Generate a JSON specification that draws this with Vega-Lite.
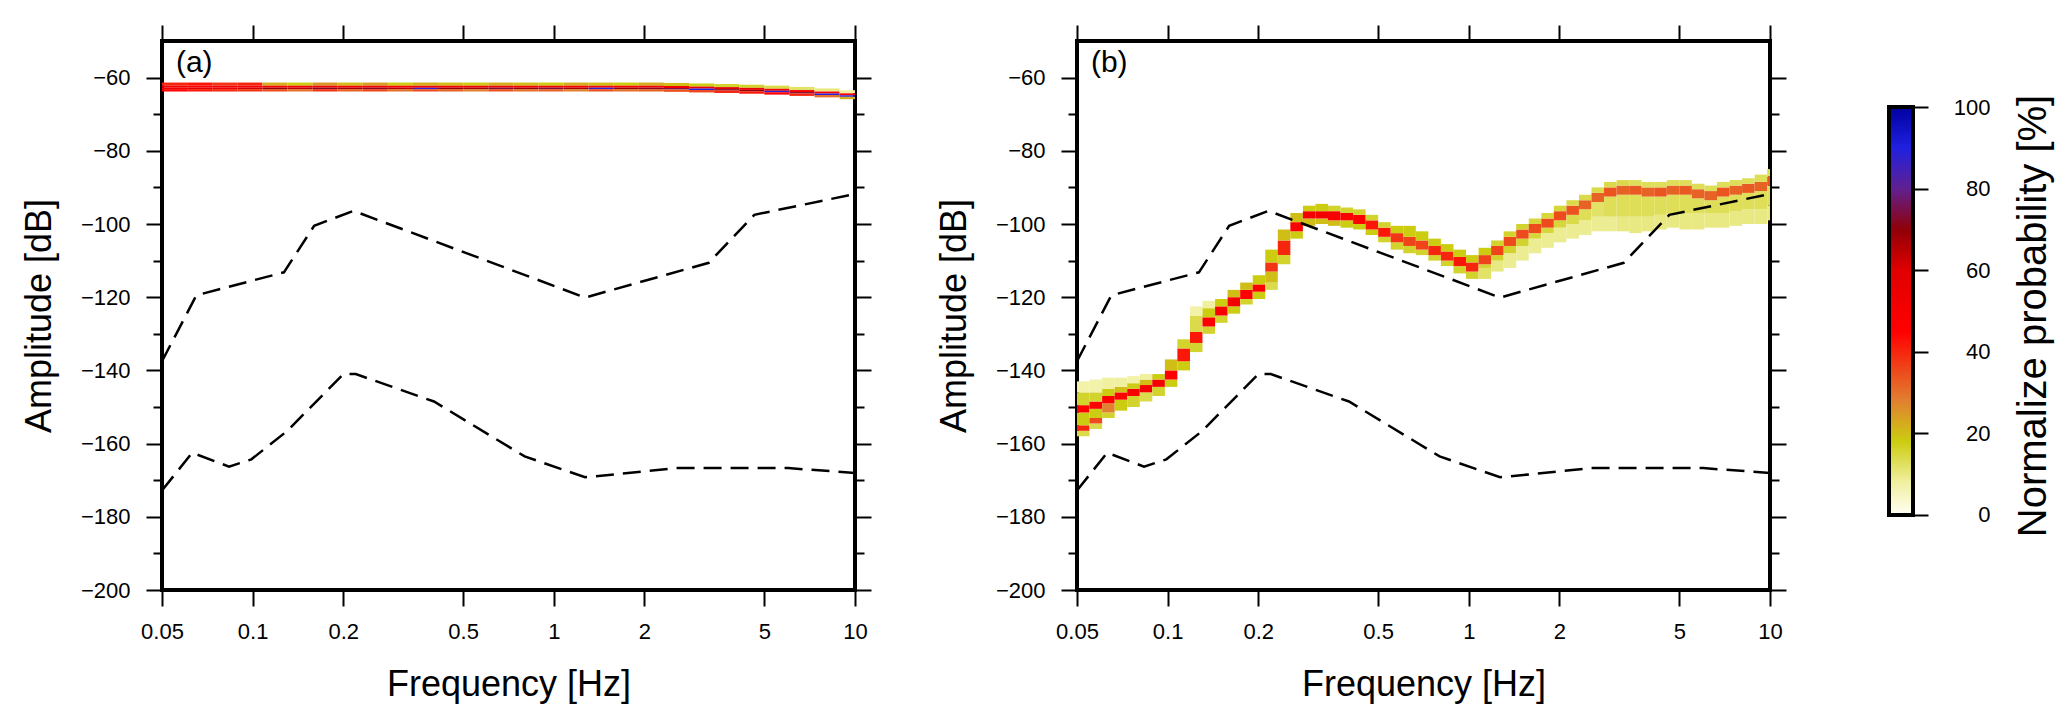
{
  "$schema": "https://vega.github.io/schema/vega-lite/v6.json",
  "background": "white",
  "padding": {"left": 19, "top": 22, "right": 5, "bottom": 5},
  "config": {
    "font": "Liberation Sans",
    "view": {"stroke": "black", "strokeWidth": 4},
    "axis": {"domain": false, "grid": false, "tickColor": "black", "tickWidth": 2, "labelColor": "black", "titleColor": "black", "labelFontSize": 22, "titleFontSize": 36, "titleFontWeight": "normal", "labelOverlap": false, "labelFlush": false}
  },
  "datasets": {
    "nm": [
      {"m": "NHNM", "f": 0.05, "db": -137.5}, {"m": "NHNM", "f": 0.065, "db": -119.5}, {"m": "NHNM", "f": 0.127, "db": -113.2},
      {"m": "NHNM", "f": 0.16, "db": -100.5}, {"m": "NHNM", "f": 0.216, "db": -96.4}, {"m": "NHNM", "f": 1.27, "db": -120.1},
      {"m": "NHNM", "f": 3.27, "db": -110.6}, {"m": "NHNM", "f": 4.63, "db": -97.5}, {"m": "NHNM", "f": 10, "db": -91.8},
      {"m": "NLNM", "f": 0.05, "db": -172.8}, {"m": "NLNM", "f": 0.063, "db": -162.5}, {"m": "NLNM", "f": 0.0835, "db": -166.3},
      {"m": "NLNM", "f": 0.099, "db": -164.3}, {"m": "NLNM", "f": 0.13, "db": -156.6}, {"m": "NLNM", "f": 0.2, "db": -141},
      {"m": "NLNM", "f": 0.22, "db": -141}, {"m": "NLNM", "f": 0.4, "db": -148.5}, {"m": "NLNM", "f": 0.8, "db": -163.5},
      {"m": "NLNM", "f": 1.27, "db": -169.2}, {"m": "NLNM", "f": 2.55, "db": -166.7}, {"m": "NLNM", "f": 6, "db": -166.7},
      {"m": "NLNM", "f": 10, "db": -168}
    ],
    "pa": [
      {"f0": 0.05, "f1": 0.06058, "d0": -62.2, "d1": -61.35, "v": 40}, {"f0": 0.05, "f1": 0.06058, "d0": -62.75, "d1": -62.2, "v": 52}, {"f0": 0.05, "f1": 0.06058, "d0": -63.15, "d1": -62.75, "v": 55}, {"f0": 0.05, "f1": 0.06058, "d0": -63.8, "d1": -63.15, "v": 45},
      {"f0": 0.06058, "f1": 0.07339, "d0": -62.2, "d1": -61.35, "v": 42}, {"f0": 0.06058, "f1": 0.07339, "d0": -62.75, "d1": -62.2, "v": 50}, {"f0": 0.06058, "f1": 0.07339, "d0": -63.15, "d1": -62.75, "v": 60}, {"f0": 0.06058, "f1": 0.07339, "d0": -63.8, "d1": -63.15, "v": 42},
      {"f0": 0.07339, "f1": 0.08891, "d0": -62.2, "d1": -61.35, "v": 38}, {"f0": 0.07339, "f1": 0.08891, "d0": -62.75, "d1": -62.2, "v": 52}, {"f0": 0.07339, "f1": 0.08891, "d0": -63.15, "d1": -62.75, "v": 55}, {"f0": 0.07339, "f1": 0.08891, "d0": -63.8, "d1": -63.15, "v": 40},
      {"f0": 0.08891, "f1": 0.10772, "d0": -62.2, "d1": -61.35, "v": 40}, {"f0": 0.08891, "f1": 0.10772, "d0": -62.75, "d1": -62.2, "v": 50}, {"f0": 0.08891, "f1": 0.10772, "d0": -63.15, "d1": -62.75, "v": 62}, {"f0": 0.08891, "f1": 0.10772, "d0": -63.8, "d1": -63.15, "v": 38},
      {"f0": 0.10772, "f1": 0.13051, "d0": -62.2, "d1": -61.35, "v": 22}, {"f0": 0.10772, "f1": 0.13051, "d0": -62.75, "d1": -62.2, "v": 48}, {"f0": 0.10772, "f1": 0.13051, "d0": -63.15, "d1": -62.75, "v": 70}, {"f0": 0.10772, "f1": 0.13051, "d0": -63.8, "d1": -63.15, "v": 35},
      {"f0": 0.13051, "f1": 0.15811, "d0": -62.2, "d1": -61.35, "v": 18}, {"f0": 0.13051, "f1": 0.15811, "d0": -62.75, "d1": -62.2, "v": 50}, {"f0": 0.13051, "f1": 0.15811, "d0": -63.15, "d1": -62.75, "v": 65}, {"f0": 0.13051, "f1": 0.15811, "d0": -63.8, "d1": -63.15, "v": 30},
      {"f0": 0.15811, "f1": 0.19156, "d0": -62.2, "d1": -61.35, "v": 25}, {"f0": 0.15811, "f1": 0.19156, "d0": -62.75, "d1": -62.2, "v": 52}, {"f0": 0.15811, "f1": 0.19156, "d0": -63.15, "d1": -62.75, "v": 72}, {"f0": 0.15811, "f1": 0.19156, "d0": -63.8, "d1": -63.15, "v": 38},
      {"f0": 0.19156, "f1": 0.23208, "d0": -62.2, "d1": -61.35, "v": 20}, {"f0": 0.19156, "f1": 0.23208, "d0": -62.75, "d1": -62.2, "v": 48}, {"f0": 0.19156, "f1": 0.23208, "d0": -63.15, "d1": -62.75, "v": 68}, {"f0": 0.19156, "f1": 0.23208, "d0": -63.8, "d1": -63.15, "v": 32},
      {"f0": 0.23208, "f1": 0.28117, "d0": -62.2, "d1": -61.35, "v": 24}, {"f0": 0.23208, "f1": 0.28117, "d0": -62.75, "d1": -62.2, "v": 50}, {"f0": 0.23208, "f1": 0.28117, "d0": -63.15, "d1": -62.75, "v": 72}, {"f0": 0.23208, "f1": 0.28117, "d0": -63.8, "d1": -63.15, "v": 36},
      {"f0": 0.28117, "f1": 0.34064, "d0": -62.2, "d1": -61.35, "v": 18}, {"f0": 0.28117, "f1": 0.34064, "d0": -62.75, "d1": -62.2, "v": 46}, {"f0": 0.28117, "f1": 0.34064, "d0": -63.15, "d1": -62.75, "v": 66}, {"f0": 0.28117, "f1": 0.34064, "d0": -63.8, "d1": -63.15, "v": 30},
      {"f0": 0.34064, "f1": 0.41269, "d0": -62.2, "d1": -61.35, "v": 22}, {"f0": 0.34064, "f1": 0.41269, "d0": -62.75, "d1": -62.2, "v": 50}, {"f0": 0.34064, "f1": 0.41269, "d0": -63.15, "d1": -62.75, "v": 88}, {"f0": 0.34064, "f1": 0.41269, "d0": -63.8, "d1": -63.15, "v": 35},
      {"f0": 0.41269, "f1": 0.5, "d0": -62.2, "d1": -61.35, "v": 20}, {"f0": 0.41269, "f1": 0.5, "d0": -62.75, "d1": -62.2, "v": 48}, {"f0": 0.41269, "f1": 0.5, "d0": -63.15, "d1": -62.75, "v": 70}, {"f0": 0.41269, "f1": 0.5, "d0": -63.8, "d1": -63.15, "v": 32},
      {"f0": 0.5, "f1": 0.60576, "d0": -62.2, "d1": -61.35, "v": 18}, {"f0": 0.5, "f1": 0.60576, "d0": -62.75, "d1": -62.2, "v": 50}, {"f0": 0.5, "f1": 0.60576, "d0": -63.15, "d1": -62.75, "v": 68}, {"f0": 0.5, "f1": 0.60576, "d0": -63.8, "d1": -63.15, "v": 28},
      {"f0": 0.60576, "f1": 0.73389, "d0": -62.2, "d1": -61.35, "v": 22}, {"f0": 0.60576, "f1": 0.73389, "d0": -62.75, "d1": -62.2, "v": 52}, {"f0": 0.60576, "f1": 0.73389, "d0": -63.15, "d1": -62.75, "v": 74}, {"f0": 0.60576, "f1": 0.73389, "d0": -63.8, "d1": -63.15, "v": 34},
      {"f0": 0.73389, "f1": 0.88913, "d0": -62.2, "d1": -61.35, "v": 20}, {"f0": 0.73389, "f1": 0.88913, "d0": -62.75, "d1": -62.2, "v": 48}, {"f0": 0.73389, "f1": 0.88913, "d0": -63.15, "d1": -62.75, "v": 70}, {"f0": 0.73389, "f1": 0.88913, "d0": -63.8, "d1": -63.15, "v": 30},
      {"f0": 0.88913, "f1": 1.07721, "d0": -62.2, "d1": -61.35, "v": 18}, {"f0": 0.88913, "f1": 1.07721, "d0": -62.75, "d1": -62.2, "v": 50}, {"f0": 0.88913, "f1": 1.07721, "d0": -63.15, "d1": -62.75, "v": 74}, {"f0": 0.88913, "f1": 1.07721, "d0": -63.8, "d1": -63.15, "v": 32},
      {"f0": 1.07721, "f1": 1.30508, "d0": -62.2, "d1": -61.35, "v": 22}, {"f0": 1.07721, "f1": 1.30508, "d0": -62.75, "d1": -62.2, "v": 48}, {"f0": 1.07721, "f1": 1.30508, "d0": -63.15, "d1": -62.75, "v": 68}, {"f0": 1.07721, "f1": 1.30508, "d0": -63.8, "d1": -63.15, "v": 28},
      {"f0": 1.30508, "f1": 1.58114, "d0": -62.2, "d1": -61.35, "v": 20}, {"f0": 1.30508, "f1": 1.58114, "d0": -62.75, "d1": -62.2, "v": 50}, {"f0": 1.30508, "f1": 1.58114, "d0": -63.15, "d1": -62.75, "v": 88}, {"f0": 1.30508, "f1": 1.58114, "d0": -63.8, "d1": -63.15, "v": 34},
      {"f0": 1.58114, "f1": 1.91558, "d0": -62.2, "d1": -61.35, "v": 18}, {"f0": 1.58114, "f1": 1.91558, "d0": -62.75, "d1": -62.2, "v": 48}, {"f0": 1.58114, "f1": 1.91558, "d0": -63.15, "d1": -62.75, "v": 70}, {"f0": 1.58114, "f1": 1.91558, "d0": -63.8, "d1": -63.15, "v": 30},
      {"f0": 1.91558, "f1": 2.32079, "d0": -62.2, "d1": -61.35, "v": 22}, {"f0": 1.91558, "f1": 2.32079, "d0": -62.75, "d1": -62.2, "v": 50}, {"f0": 1.91558, "f1": 2.32079, "d0": -63.15, "d1": -62.75, "v": 72}, {"f0": 1.91558, "f1": 2.32079, "d0": -63.8, "d1": -63.15, "v": 32},
      {"f0": 2.32079, "f1": 2.81171, "d0": -62.3, "d1": -61.45, "v": 20}, {"f0": 2.32079, "f1": 2.81171, "d0": -62.85, "d1": -62.3, "v": 52}, {"f0": 2.32079, "f1": 2.81171, "d0": -63.25, "d1": -62.85, "v": 74}, {"f0": 2.32079, "f1": 2.81171, "d0": -63.9, "d1": -63.25, "v": 34},
      {"f0": 2.81171, "f1": 3.40646, "d0": -62.45, "d1": -61.6, "v": 18}, {"f0": 2.81171, "f1": 3.40646, "d0": -63.0, "d1": -62.45, "v": 55}, {"f0": 2.81171, "f1": 3.40646, "d0": -63.4, "d1": -63.0, "v": 90}, {"f0": 2.81171, "f1": 3.40646, "d0": -64.05, "d1": -63.4, "v": 36},
      {"f0": 3.40646, "f1": 4.12703, "d0": -62.6, "d1": -61.75, "v": 16}, {"f0": 3.40646, "f1": 4.12703, "d0": -63.15, "d1": -62.6, "v": 58}, {"f0": 3.40646, "f1": 4.12703, "d0": -63.55, "d1": -63.15, "v": 72}, {"f0": 3.40646, "f1": 4.12703, "d0": -64.2, "d1": -63.55, "v": 40},
      {"f0": 4.12703, "f1": 5.0, "d0": -62.8, "d1": -61.95, "v": 16}, {"f0": 4.12703, "f1": 5.0, "d0": -63.35, "d1": -62.8, "v": 55}, {"f0": 4.12703, "f1": 5.0, "d0": -63.75, "d1": -63.35, "v": 70}, {"f0": 4.12703, "f1": 5.0, "d0": -64.4, "d1": -63.75, "v": 42},
      {"f0": 5.0, "f1": 6.05764, "d0": -63.05, "d1": -62.2, "v": 14}, {"f0": 5.0, "f1": 6.05764, "d0": -63.6, "d1": -63.05, "v": 52}, {"f0": 5.0, "f1": 6.05764, "d0": -64.0, "d1": -63.6, "v": 88}, {"f0": 5.0, "f1": 6.05764, "d0": -64.65, "d1": -64.0, "v": 45},
      {"f0": 6.05764, "f1": 7.33891, "d0": -63.4, "d1": -62.55, "v": 12}, {"f0": 6.05764, "f1": 7.33891, "d0": -63.95, "d1": -63.4, "v": 50}, {"f0": 6.05764, "f1": 7.33891, "d0": -64.35, "d1": -63.95, "v": 72}, {"f0": 6.05764, "f1": 7.33891, "d0": -65.0, "d1": -64.35, "v": 40},
      {"f0": 7.33891, "f1": 8.89134, "d0": -63.8, "d1": -62.95, "v": 10}, {"f0": 7.33891, "f1": 8.89134, "d0": -64.35, "d1": -63.8, "v": 48}, {"f0": 7.33891, "f1": 8.89134, "d0": -64.75, "d1": -64.35, "v": 90}, {"f0": 7.33891, "f1": 8.89134, "d0": -65.4, "d1": -64.75, "v": 30},
      {"f0": 8.89134, "f1": 10, "d0": -64.3, "d1": -63.45, "v": 8}, {"f0": 8.89134, "f1": 10, "d0": -64.85, "d1": -64.3, "v": 45}, {"f0": 8.89134, "f1": 10, "d0": -65.25, "d1": -64.85, "v": 92}, {"f0": 8.89134, "f1": 10, "d0": -65.9, "d1": -65.25, "v": 22}
    ],
    "pb": [
      {"f0": 0.05, "f1": 0.055, "d0": -158, "d1": -156.5, "v": 14}, {"f0": 0.05, "f1": 0.055, "d0": -156.5, "d1": -155, "v": 40}, {"f0": 0.05, "f1": 0.055, "d0": -155, "d1": -151.5, "v": 18}, {"f0": 0.05, "f1": 0.055, "d0": -151.5, "d1": -149.5, "v": 45}, {"f0": 0.05, "f1": 0.055, "d0": -149.5, "d1": -146, "v": 16}, {"f0": 0.05, "f1": 0.055, "d0": -146, "d1": -143, "v": 7},
      {"f0": 0.055, "f1": 0.0606, "d0": -156, "d1": -154.5, "v": 14}, {"f0": 0.055, "f1": 0.0606, "d0": -154.5, "d1": -153, "v": 35}, {"f0": 0.055, "f1": 0.0606, "d0": -153, "d1": -150.5, "v": 18}, {"f0": 0.055, "f1": 0.0606, "d0": -150.5, "d1": -148.5, "v": 45}, {"f0": 0.055, "f1": 0.0606, "d0": -148.5, "d1": -146, "v": 16}, {"f0": 0.055, "f1": 0.0606, "d0": -146, "d1": -142.5, "v": 7},
      {"f0": 0.0606, "f1": 0.0667, "d0": -153, "d1": -151.5, "v": 16}, {"f0": 0.0606, "f1": 0.0667, "d0": -151.5, "d1": -149, "v": 28}, {"f0": 0.0606, "f1": 0.0667, "d0": -149, "d1": -147, "v": 45}, {"f0": 0.0606, "f1": 0.0667, "d0": -147, "d1": -145, "v": 18}, {"f0": 0.0606, "f1": 0.0667, "d0": -145, "d1": -142, "v": 8},
      {"f0": 0.0667, "f1": 0.0734, "d0": -151, "d1": -148, "v": 18}, {"f0": 0.0667, "f1": 0.0734, "d0": -148, "d1": -146, "v": 45}, {"f0": 0.0667, "f1": 0.0734, "d0": -146, "d1": -144.5, "v": 20}, {"f0": 0.0667, "f1": 0.0734, "d0": -144.5, "d1": -142, "v": 8},
      {"f0": 0.0734, "f1": 0.0808, "d0": -150, "d1": -147, "v": 16}, {"f0": 0.0734, "f1": 0.0808, "d0": -147, "d1": -145, "v": 48}, {"f0": 0.0734, "f1": 0.0808, "d0": -145, "d1": -143.5, "v": 18}, {"f0": 0.0734, "f1": 0.0808, "d0": -143.5, "d1": -141.5, "v": 7},
      {"f0": 0.0808, "f1": 0.0889, "d0": -148.5, "d1": -146, "v": 14}, {"f0": 0.0808, "f1": 0.0889, "d0": -146, "d1": -144, "v": 50}, {"f0": 0.0808, "f1": 0.0889, "d0": -144, "d1": -142.5, "v": 20}, {"f0": 0.0808, "f1": 0.0889, "d0": -142.5, "d1": -141, "v": 8},
      {"f0": 0.0889, "f1": 0.0979, "d0": -147, "d1": -144.5, "v": 16}, {"f0": 0.0889, "f1": 0.0979, "d0": -144.5, "d1": -142.5, "v": 50}, {"f0": 0.0889, "f1": 0.0979, "d0": -142.5, "d1": -141, "v": 18},
      {"f0": 0.0979, "f1": 0.1077, "d0": -144.5, "d1": -142.5, "v": 18}, {"f0": 0.0979, "f1": 0.1077, "d0": -142.5, "d1": -140, "v": 45}, {"f0": 0.0979, "f1": 0.1077, "d0": -140, "d1": -137, "v": 20},
      {"f0": 0.1077, "f1": 0.1186, "d0": -140, "d1": -137.5, "v": 18}, {"f0": 0.1077, "f1": 0.1186, "d0": -137.5, "d1": -134, "v": 42}, {"f0": 0.1077, "f1": 0.1186, "d0": -134, "d1": -131.5, "v": 16},
      {"f0": 0.1186, "f1": 0.1305, "d0": -135, "d1": -132.5, "v": 16}, {"f0": 0.1186, "f1": 0.1305, "d0": -132.5, "d1": -129.5, "v": 42}, {"f0": 0.1186, "f1": 0.1305, "d0": -129.5, "d1": -125, "v": 14}, {"f0": 0.1186, "f1": 0.1305, "d0": -125, "d1": -122.5, "v": 7},
      {"f0": 0.1305, "f1": 0.1437, "d0": -130, "d1": -128, "v": 16}, {"f0": 0.1305, "f1": 0.1437, "d0": -128, "d1": -125.5, "v": 45}, {"f0": 0.1305, "f1": 0.1437, "d0": -125.5, "d1": -123, "v": 18}, {"f0": 0.1305, "f1": 0.1437, "d0": -123, "d1": -121, "v": 8},
      {"f0": 0.1437, "f1": 0.1581, "d0": -127, "d1": -125, "v": 16}, {"f0": 0.1437, "f1": 0.1581, "d0": -125, "d1": -122.5, "v": 48}, {"f0": 0.1437, "f1": 0.1581, "d0": -122.5, "d1": -120.5, "v": 18},
      {"f0": 0.1581, "f1": 0.1741, "d0": -124.5, "d1": -122.5, "v": 18}, {"f0": 0.1581, "f1": 0.1741, "d0": -122.5, "d1": -120, "v": 50}, {"f0": 0.1581, "f1": 0.1741, "d0": -120, "d1": -118, "v": 20},
      {"f0": 0.1741, "f1": 0.1916, "d0": -122, "d1": -120.5, "v": 16}, {"f0": 0.1741, "f1": 0.1916, "d0": -120.5, "d1": -118, "v": 45}, {"f0": 0.1741, "f1": 0.1916, "d0": -118, "d1": -116, "v": 20},
      {"f0": 0.1916, "f1": 0.2109, "d0": -120.5, "d1": -118.5, "v": 18}, {"f0": 0.1916, "f1": 0.2109, "d0": -118.5, "d1": -116.5, "v": 45}, {"f0": 0.1916, "f1": 0.2109, "d0": -116.5, "d1": -114, "v": 18},
      {"f0": 0.2109, "f1": 0.2321, "d0": -118, "d1": -116, "v": 14}, {"f0": 0.2109, "f1": 0.2321, "d0": -116, "d1": -113, "v": 20}, {"f0": 0.2109, "f1": 0.2321, "d0": -113, "d1": -110.5, "v": 38}, {"f0": 0.2109, "f1": 0.2321, "d0": -110.5, "d1": -107, "v": 18},
      {"f0": 0.2321, "f1": 0.2555, "d0": -111, "d1": -108.5, "v": 16}, {"f0": 0.2321, "f1": 0.2555, "d0": -108.5, "d1": -104.5, "v": 40}, {"f0": 0.2321, "f1": 0.2555, "d0": -104.5, "d1": -101.5, "v": 20},
      {"f0": 0.2555, "f1": 0.2812, "d0": -104, "d1": -102, "v": 18}, {"f0": 0.2555, "f1": 0.2812, "d0": -102, "d1": -99.5, "v": 45}, {"f0": 0.2555, "f1": 0.2812, "d0": -99.5, "d1": -97, "v": 20},
      {"f0": 0.2812, "f1": 0.3095, "d0": -100.5, "d1": -98.5, "v": 20}, {"f0": 0.2812, "f1": 0.3095, "d0": -98.5, "d1": -96.5, "v": 50}, {"f0": 0.2812, "f1": 0.3095, "d0": -96.5, "d1": -95, "v": 18},
      {"f0": 0.3095, "f1": 0.3407, "d0": -100, "d1": -98.5, "v": 20}, {"f0": 0.3095, "f1": 0.3407, "d0": -98.5, "d1": -96.5, "v": 50}, {"f0": 0.3095, "f1": 0.3407, "d0": -96.5, "d1": -94.5, "v": 18},
      {"f0": 0.3407, "f1": 0.375, "d0": -100.5, "d1": -99, "v": 20}, {"f0": 0.3407, "f1": 0.375, "d0": -99, "d1": -96.5, "v": 48}, {"f0": 0.3407, "f1": 0.375, "d0": -96.5, "d1": -95, "v": 16},
      {"f0": 0.375, "f1": 0.4128, "d0": -101, "d1": -99, "v": 18}, {"f0": 0.375, "f1": 0.4128, "d0": -99, "d1": -97, "v": 45}, {"f0": 0.375, "f1": 0.4128, "d0": -97, "d1": -95.5, "v": 16},
      {"f0": 0.4128, "f1": 0.4543, "d0": -101.5, "d1": -100, "v": 18}, {"f0": 0.4128, "f1": 0.4543, "d0": -100, "d1": -97.5, "v": 45}, {"f0": 0.4128, "f1": 0.4543, "d0": -97.5, "d1": -96, "v": 16},
      {"f0": 0.4543, "f1": 0.5, "d0": -103, "d1": -101.5, "v": 18}, {"f0": 0.4543, "f1": 0.5, "d0": -101.5, "d1": -99, "v": 42}, {"f0": 0.4543, "f1": 0.5, "d0": -99, "d1": -97.5, "v": 16},
      {"f0": 0.5, "f1": 0.5503, "d0": -105, "d1": -103.5, "v": 16}, {"f0": 0.5, "f1": 0.5503, "d0": -103.5, "d1": -101, "v": 42}, {"f0": 0.5, "f1": 0.5503, "d0": -101, "d1": -99.5, "v": 16},
      {"f0": 0.5503, "f1": 0.6058, "d0": -107, "d1": -105, "v": 16}, {"f0": 0.5503, "f1": 0.6058, "d0": -105, "d1": -102.5, "v": 38}, {"f0": 0.5503, "f1": 0.6058, "d0": -102.5, "d1": -100.5, "v": 18},
      {"f0": 0.6058, "f1": 0.6668, "d0": -108, "d1": -106, "v": 16}, {"f0": 0.6058, "f1": 0.6668, "d0": -106, "d1": -103.5, "v": 36}, {"f0": 0.6058, "f1": 0.6668, "d0": -103.5, "d1": -100.5, "v": 18},
      {"f0": 0.6668, "f1": 0.7339, "d0": -108.5, "d1": -107, "v": 16}, {"f0": 0.6668, "f1": 0.7339, "d0": -107, "d1": -104.5, "v": 36}, {"f0": 0.6668, "f1": 0.7339, "d0": -104.5, "d1": -102, "v": 18},
      {"f0": 0.7339, "f1": 0.8078, "d0": -110, "d1": -108.5, "v": 16}, {"f0": 0.7339, "f1": 0.8078, "d0": -108.5, "d1": -106, "v": 40}, {"f0": 0.7339, "f1": 0.8078, "d0": -106, "d1": -104, "v": 18},
      {"f0": 0.8078, "f1": 0.8891, "d0": -111.5, "d1": -110, "v": 16}, {"f0": 0.8078, "f1": 0.8891, "d0": -110, "d1": -107.5, "v": 40}, {"f0": 0.8078, "f1": 0.8891, "d0": -107.5, "d1": -105.5, "v": 18},
      {"f0": 0.8891, "f1": 0.9787, "d0": -113.5, "d1": -111.5, "v": 16}, {"f0": 0.8891, "f1": 0.9787, "d0": -111.5, "d1": -109, "v": 42}, {"f0": 0.8891, "f1": 0.9787, "d0": -109, "d1": -107, "v": 18},
      {"f0": 0.9787, "f1": 1.0772, "d0": -115, "d1": -113, "v": 16}, {"f0": 0.9787, "f1": 1.0772, "d0": -113, "d1": -110.5, "v": 40}, {"f0": 0.9787, "f1": 1.0772, "d0": -110.5, "d1": -108.5, "v": 18},
      {"f0": 1.0772, "f1": 1.1857, "d0": -115, "d1": -112, "v": 12}, {"f0": 1.0772, "f1": 1.1857, "d0": -112, "d1": -111, "v": 16}, {"f0": 1.0772, "f1": 1.1857, "d0": -111, "d1": -108.5, "v": 36}, {"f0": 1.0772, "f1": 1.1857, "d0": -108.5, "d1": -106.5, "v": 18},
      {"f0": 1.1857, "f1": 1.3051, "d0": -113, "d1": -110, "v": 10}, {"f0": 1.1857, "f1": 1.3051, "d0": -110, "d1": -108.5, "v": 16}, {"f0": 1.1857, "f1": 1.3051, "d0": -108.5, "d1": -106, "v": 36}, {"f0": 1.1857, "f1": 1.3051, "d0": -106, "d1": -104.5, "v": 16},
      {"f0": 1.3051, "f1": 1.4365, "d0": -112, "d1": -108, "v": 9}, {"f0": 1.3051, "f1": 1.4365, "d0": -108, "d1": -106, "v": 16}, {"f0": 1.3051, "f1": 1.4365, "d0": -106, "d1": -103.5, "v": 35}, {"f0": 1.3051, "f1": 1.4365, "d0": -103.5, "d1": -102, "v": 16},
      {"f0": 1.4365, "f1": 1.5811, "d0": -110, "d1": -106, "v": 9}, {"f0": 1.4365, "f1": 1.5811, "d0": -106, "d1": -104, "v": 16}, {"f0": 1.4365, "f1": 1.5811, "d0": -104, "d1": -101.5, "v": 35}, {"f0": 1.4365, "f1": 1.5811, "d0": -101.5, "d1": -100, "v": 16},
      {"f0": 1.5811, "f1": 1.7404, "d0": -108, "d1": -104, "v": 9}, {"f0": 1.5811, "f1": 1.7404, "d0": -104, "d1": -102.5, "v": 15}, {"f0": 1.5811, "f1": 1.7404, "d0": -102.5, "d1": -100, "v": 35}, {"f0": 1.5811, "f1": 1.7404, "d0": -100, "d1": -98.5, "v": 15},
      {"f0": 1.7404, "f1": 1.9156, "d0": -106.5, "d1": -102.5, "v": 9}, {"f0": 1.7404, "f1": 1.9156, "d0": -102.5, "d1": -101, "v": 15}, {"f0": 1.7404, "f1": 1.9156, "d0": -101, "d1": -98.5, "v": 35}, {"f0": 1.7404, "f1": 1.9156, "d0": -98.5, "d1": -97, "v": 15},
      {"f0": 1.9156, "f1": 2.1085, "d0": -105, "d1": -101, "v": 9}, {"f0": 1.9156, "f1": 2.1085, "d0": -101, "d1": -99, "v": 15}, {"f0": 1.9156, "f1": 2.1085, "d0": -99, "d1": -96.5, "v": 35}, {"f0": 1.9156, "f1": 2.1085, "d0": -96.5, "d1": -95, "v": 15},
      {"f0": 2.1085, "f1": 2.3208, "d0": -104, "d1": -100, "v": 9}, {"f0": 2.1085, "f1": 2.3208, "d0": -100, "d1": -97.5, "v": 14}, {"f0": 2.1085, "f1": 2.3208, "d0": -97.5, "d1": -95, "v": 34}, {"f0": 2.1085, "f1": 2.3208, "d0": -95, "d1": -93.5, "v": 14},
      {"f0": 2.3208, "f1": 2.5544, "d0": -103, "d1": -99, "v": 9}, {"f0": 2.3208, "f1": 2.5544, "d0": -99, "d1": -96, "v": 13}, {"f0": 2.3208, "f1": 2.5544, "d0": -96, "d1": -93.5, "v": 32}, {"f0": 2.3208, "f1": 2.5544, "d0": -93.5, "d1": -92, "v": 14},
      {"f0": 2.5544, "f1": 2.8117, "d0": -102, "d1": -98, "v": 9}, {"f0": 2.5544, "f1": 2.8117, "d0": -98, "d1": -94, "v": 12}, {"f0": 2.5544, "f1": 2.8117, "d0": -94, "d1": -91.5, "v": 32}, {"f0": 2.5544, "f1": 2.8117, "d0": -91.5, "d1": -90, "v": 14},
      {"f0": 2.8117, "f1": 3.0948, "d0": -102, "d1": -98, "v": 9}, {"f0": 2.8117, "f1": 3.0948, "d0": -98, "d1": -92.5, "v": 13}, {"f0": 2.8117, "f1": 3.0948, "d0": -92.5, "d1": -90, "v": 34}, {"f0": 2.8117, "f1": 3.0948, "d0": -90, "d1": -88.5, "v": 14},
      {"f0": 3.0948, "f1": 3.4064, "d0": -102, "d1": -98, "v": 10}, {"f0": 3.0948, "f1": 3.4064, "d0": -98, "d1": -92, "v": 13}, {"f0": 3.0948, "f1": 3.4064, "d0": -92, "d1": -89.5, "v": 32}, {"f0": 3.0948, "f1": 3.4064, "d0": -89.5, "d1": -88, "v": 14},
      {"f0": 3.4064, "f1": 3.7494, "d0": -102.5, "d1": -98, "v": 10}, {"f0": 3.4064, "f1": 3.7494, "d0": -98, "d1": -92, "v": 13}, {"f0": 3.4064, "f1": 3.7494, "d0": -92, "d1": -89.5, "v": 33}, {"f0": 3.4064, "f1": 3.7494, "d0": -89.5, "d1": -88, "v": 13},
      {"f0": 3.7494, "f1": 4.1269, "d0": -102, "d1": -98, "v": 10}, {"f0": 3.7494, "f1": 4.1269, "d0": -98, "d1": -92.5, "v": 13}, {"f0": 3.7494, "f1": 4.1269, "d0": -92.5, "d1": -90, "v": 32}, {"f0": 3.7494, "f1": 4.1269, "d0": -90, "d1": -88.5, "v": 13},
      {"f0": 4.1269, "f1": 4.5424, "d0": -101.5, "d1": -97.5, "v": 10}, {"f0": 4.1269, "f1": 4.5424, "d0": -97.5, "d1": -92.5, "v": 13}, {"f0": 4.1269, "f1": 4.5424, "d0": -92.5, "d1": -90, "v": 34}, {"f0": 4.1269, "f1": 4.5424, "d0": -90, "d1": -88.5, "v": 13},
      {"f0": 4.5424, "f1": 5.0, "d0": -101, "d1": -97, "v": 10}, {"f0": 4.5424, "f1": 5.0, "d0": -97, "d1": -92, "v": 13}, {"f0": 4.5424, "f1": 5.0, "d0": -92, "d1": -89.5, "v": 32}, {"f0": 4.5424, "f1": 5.0, "d0": -89.5, "d1": -88, "v": 13},
      {"f0": 5.0, "f1": 5.5034, "d0": -101.5, "d1": -97, "v": 10}, {"f0": 5.0, "f1": 5.5034, "d0": -97, "d1": -92, "v": 13}, {"f0": 5.0, "f1": 5.5034, "d0": -92, "d1": -89.5, "v": 33}, {"f0": 5.0, "f1": 5.5034, "d0": -89.5, "d1": -88, "v": 13},
      {"f0": 5.5034, "f1": 6.0576, "d0": -101.5, "d1": -97, "v": 10}, {"f0": 5.5034, "f1": 6.0576, "d0": -97, "d1": -93, "v": 13}, {"f0": 5.5034, "f1": 6.0576, "d0": -93, "d1": -90.5, "v": 32}, {"f0": 5.5034, "f1": 6.0576, "d0": -90.5, "d1": -89, "v": 13},
      {"f0": 6.0576, "f1": 6.6676, "d0": -101, "d1": -97, "v": 10}, {"f0": 6.0576, "f1": 6.6676, "d0": -97, "d1": -93.5, "v": 13}, {"f0": 6.0576, "f1": 6.6676, "d0": -93.5, "d1": -91, "v": 32}, {"f0": 6.0576, "f1": 6.6676, "d0": -91, "d1": -89.5, "v": 13},
      {"f0": 6.6676, "f1": 7.3389, "d0": -101, "d1": -97, "v": 10}, {"f0": 6.6676, "f1": 7.3389, "d0": -97, "d1": -92.5, "v": 13}, {"f0": 6.6676, "f1": 7.3389, "d0": -92.5, "d1": -90, "v": 34}, {"f0": 6.6676, "f1": 7.3389, "d0": -90, "d1": -88.5, "v": 13},
      {"f0": 7.3389, "f1": 8.0779, "d0": -100.5, "d1": -96.5, "v": 10}, {"f0": 7.3389, "f1": 8.0779, "d0": -96.5, "d1": -92, "v": 13}, {"f0": 7.3389, "f1": 8.0779, "d0": -92, "d1": -89.5, "v": 32}, {"f0": 7.3389, "f1": 8.0779, "d0": -89.5, "d1": -88, "v": 13},
      {"f0": 8.0779, "f1": 8.8913, "d0": -100, "d1": -96, "v": 10}, {"f0": 8.0779, "f1": 8.8913, "d0": -96, "d1": -91.5, "v": 13}, {"f0": 8.0779, "f1": 8.8913, "d0": -91.5, "d1": -89, "v": 33}, {"f0": 8.0779, "f1": 8.8913, "d0": -89, "d1": -87.5, "v": 13},
      {"f0": 8.8913, "f1": 9.7866, "d0": -100, "d1": -96, "v": 10}, {"f0": 8.8913, "f1": 9.7866, "d0": -96, "d1": -91, "v": 13}, {"f0": 8.8913, "f1": 9.7866, "d0": -91, "d1": -88.5, "v": 32}, {"f0": 8.8913, "f1": 9.7866, "d0": -88.5, "d1": -86.5, "v": 13},
      {"f0": 9.7866, "f1": 10, "d0": -99, "d1": -95, "v": 10}, {"f0": 9.7866, "f1": 10, "d0": -95, "d1": -89.5, "v": 13}, {"f0": 9.7866, "f1": 10, "d0": -89.5, "d1": -87, "v": 34}, {"f0": 9.7866, "f1": 10, "d0": -87, "d1": -85, "v": 13}
    ]
  },
  "hconcat": [
    {
      "spacing": 60,
      "hconcat": [
        {
          "width": 693,
          "height": 549,
          "resolve": {"axis": {"x": "independent", "y": "independent"}},
          "layer": [
            {
              "data": {"name": "pa"},
              "mark": {"type": "rect"},
              "encoding": {
                "x": {"field": "f0", "type": "quantitative", "scale": {"type": "log", "domain": [0.05, 10], "nice": false},
                  "axis": {"orient": "bottom", "values": [0.05, 0.1, 0.2, 0.5, 1, 2, 5, 10], "format": "~g", "tickSize": 16, "labelPadding": 15, "title": "Frequency [Hz]", "titlePadding": 25}},
                "x2": {"field": "f1"},
                "y": {"field": "d0", "type": "quantitative", "scale": {"domain": [-200, -50], "nice": false, "zero": false},
                  "axis": {"orient": "left", "values": [-200, -190, -180, -170, -160, -150, -140, -130, -120, -110, -100, -90, -80, -70, -60], "labelExpr": "datum.value % 20 === 0 ? datum.label : ''", "tickSize": {"condition": {"test": "datum.value % 20 === 0", "value": 16}, "value": 9}, "labelPadding": 16, "title": "Amplitude [dB]", "titlePadding": 22}},
                "y2": {"field": "d1"},
                "color": {"field": "v", "type": "quantitative", "legend": null,
                  "scale": {"type": "linear", "interpolate": "rgb", "domain": [0, 8, 18, 28, 45, 60, 70, 80, 90, 100], "range": ["#fffff5", "#f0f0a0", "#cccc10", "#e08030", "#ff0000", "#e00000", "#900008", "#602090", "#2020e0", "#0000a0"]}}
              }
            },
            {
              "data": {"name": "nm"},
              "mark": {"type": "line", "color": "black", "strokeWidth": 2.5, "strokeDash": [18, 9]},
              "encoding": {
                "x": {"field": "f", "type": "quantitative", "scale": {"type": "log", "domain": [0.05, 10], "nice": false},
                  "axis": {"orient": "top", "values": [0.05, 0.1, 0.2, 0.5, 1, 2, 5, 10], "labels": false, "title": null, "tickSize": 16}},
                "y": {"field": "db", "type": "quantitative", "scale": {"domain": [-200, -50], "nice": false, "zero": false},
                  "axis": {"orient": "right", "values": [-200, -190, -180, -170, -160, -150, -140, -130, -120, -110, -100, -90, -80, -70, -60], "labels": false, "title": null, "tickSize": {"condition": {"test": "datum.value % 20 === 0", "value": 16}, "value": 9}}},
                "detail": {"field": "m"}
              }
            },
            {
              "data": {"values": [{"t": "(a)", "f": 0.0556, "db": -52}]},
              "mark": {"type": "text", "align": "left", "baseline": "top", "fontSize": 30, "color": "black"},
              "encoding": {
                "x": {"field": "f", "type": "quantitative", "axis": null},
                "y": {"field": "db", "type": "quantitative", "axis": null},
                "text": {"field": "t"}
              }
            }
          ]
        },
        {
          "width": 693,
          "height": 549,
          "resolve": {"axis": {"x": "independent", "y": "independent"}},
          "layer": [
            {
              "data": {"name": "pb"},
              "mark": {"type": "rect"},
              "encoding": {
                "x": {"field": "f0", "type": "quantitative", "scale": {"type": "log", "domain": [0.05, 10], "nice": false},
                  "axis": {"orient": "bottom", "values": [0.05, 0.1, 0.2, 0.5, 1, 2, 5, 10], "format": "~g", "tickSize": 16, "labelPadding": 15, "title": "Frequency [Hz]", "titlePadding": 25}},
                "x2": {"field": "f1"},
                "y": {"field": "d0", "type": "quantitative", "scale": {"domain": [-200, -50], "nice": false, "zero": false},
                  "axis": {"orient": "left", "values": [-200, -190, -180, -170, -160, -150, -140, -130, -120, -110, -100, -90, -80, -70, -60], "labelExpr": "datum.value % 20 === 0 ? datum.label : ''", "tickSize": {"condition": {"test": "datum.value % 20 === 0", "value": 16}, "value": 9}, "labelPadding": 16, "title": "Amplitude [dB]", "titlePadding": 22}},
                "y2": {"field": "d1"},
                "color": {"field": "v", "type": "quantitative", "legend": null,
                  "scale": {"type": "linear", "interpolate": "rgb", "domain": [0, 8, 18, 28, 45, 60, 70, 80, 90, 100], "range": ["#fffff5", "#f0f0a0", "#cccc10", "#e08030", "#ff0000", "#e00000", "#900008", "#602090", "#2020e0", "#0000a0"]}}
              }
            },
            {
              "data": {"name": "nm"},
              "mark": {"type": "line", "color": "black", "strokeWidth": 2.5, "strokeDash": [18, 9]},
              "encoding": {
                "x": {"field": "f", "type": "quantitative", "scale": {"type": "log", "domain": [0.05, 10], "nice": false},
                  "axis": {"orient": "top", "values": [0.05, 0.1, 0.2, 0.5, 1, 2, 5, 10], "labels": false, "title": null, "tickSize": 16}},
                "y": {"field": "db", "type": "quantitative", "scale": {"domain": [-200, -50], "nice": false, "zero": false},
                  "axis": {"orient": "right", "values": [-200, -190, -180, -170, -160, -150, -140, -130, -120, -110, -100, -90, -80, -70, -60], "labels": false, "title": null, "tickSize": {"condition": {"test": "datum.value % 20 === 0", "value": 16}, "value": 9}}},
                "detail": {"field": "m"}
              }
            },
            {
              "data": {"values": [{"t": "(b)", "f": 0.0556, "db": -52}]},
              "mark": {"type": "text", "align": "left", "baseline": "top", "fontSize": 30, "color": "black"},
              "encoding": {
                "x": {"field": "f", "type": "quantitative", "axis": null},
                "y": {"field": "db", "type": "quantitative", "axis": null},
                "text": {"field": "t"}
              }
            }
          ]
        }
      ]
    },
    {
      "width": 24,
      "height": 549,
      "view": {"stroke": null},
      "data": {"values": [{"lo": 0, "hi": 100}]},
      "mark": {"type": "rect", "stroke": "black", "strokeWidth": 4,
        "fill": {"gradient": "linear", "x1": 0, "y1": 1, "x2": 0, "y2": 0, "stops": [
          {"offset": 0, "color": "#fffff5"}, {"offset": 0.08, "color": "#f0f0a0"}, {"offset": 0.18, "color": "#cccc10"},
          {"offset": 0.28, "color": "#e08030"}, {"offset": 0.45, "color": "#ff0000"}, {"offset": 0.6, "color": "#e00000"},
          {"offset": 0.7, "color": "#900008"}, {"offset": 0.8, "color": "#602090"}, {"offset": 0.9, "color": "#2020e0"},
          {"offset": 1, "color": "#0000a0"}]}},
      "encoding": {
        "y": {"field": "lo", "type": "quantitative", "scale": {"domain": [-18.4, 116.2], "nice": false, "zero": false},
          "axis": {"orient": "right", "values": [0, 20, 40, 60, 80, 100], "tickSize": 15, "labelAlign": "right", "labelPadding": 62, "labelFontSize": 22, "title": "Normalize probability [%]", "titleFontSize": 40, "titleAngle": 270, "titleBaseline": "top", "titlePadding": 23}},
        "y2": {"field": "hi"}
      }
    }
  ],
  "spacing": 98
}
